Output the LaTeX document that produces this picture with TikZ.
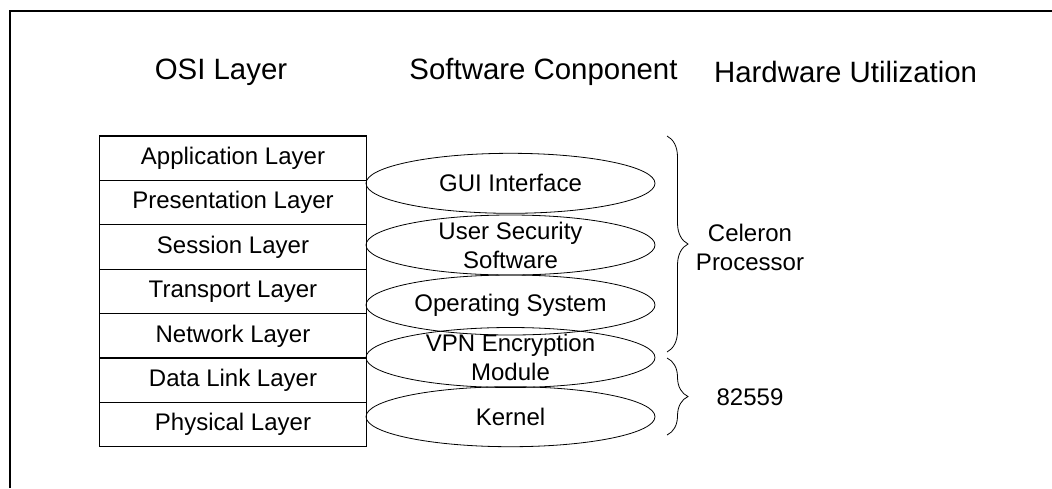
\documentclass[tikz,border=0pt]{standalone}
\usepackage{fontspec}
\setmainfont{Liberation Sans}
\usetikzlibrary{decorations.pathreplacing}

\begin{document}
\begin{tikzpicture}[x=0.5pt,y=-0.5pt,
  head/.style={font=\fontsize{14.7}{17}\selectfont},
  layer/.style={draw,line width=0.6pt,minimum width=133.5pt,minimum height=22.2pt,inner sep=0pt,font=\fontsize{12}{14.5}\selectfont},
  comp/.style={align=center,inner sep=0pt,font=\fontsize{12}{14.5}\selectfont},
  hwbrace/.style={decorate,decoration={brace,amplitude=10.5pt},line width=0.4pt}]
  \useasboundingbox (0,0) rectangle (1052,488);
  \draw[line width=1pt] (10,488) |- (1052,11);

  % column heads
  \node[head] (osi) at (221,72) {OSI Layer};
  \node[head] (sw) at (543.5,72) {Software Conponent};
  \node[head] (hw) at (845.6,72) {Hardware Utilization};

  % OSI stack
  \foreach \name [count=\i] in {Application,Presentation,Session,Transport,Network,Data Link,Physical}
    \node[layer] (layer\i) at (233,{136+44.4*(\i-0.5)}) {\name{} Layer};

  % software components
  \node[comp] (gui) at (510.5,183.3) {GUI Interface};
  \node[comp] (usersec) at (510.5,245) {User Security\\Software};
  \node[comp] (os) at (510.5,305) {Operating System};
  \node[comp] (vpn) at (510.5,357.5) {VPN Encryption\\Module};
  \node[comp] (kernel) at (510.5,416.7) {Kernel};
  \foreach \n in {gui,usersec,os,vpn,kernel}
    \draw[line width=0.4pt] (\n) ellipse [x radius=72.25pt, y radius=15pt];

  % hardware
  \coordinate (cpu top) at (667,136);
  \coordinate (cpu bot) at (667,352);
  \coordinate (nic top) at (667,358);
  \coordinate (nic bot) at (667,435);
  \draw[hwbrace] (cpu top) -- (cpu bot);
  \draw[hwbrace] (nic top) -- (nic bot);
  \node[comp] (cpu) at (750,247.5) {Celeron\\Processor};
  \node[comp] (nic) at (750,397) {82559};
\end{tikzpicture}
\end{document}
